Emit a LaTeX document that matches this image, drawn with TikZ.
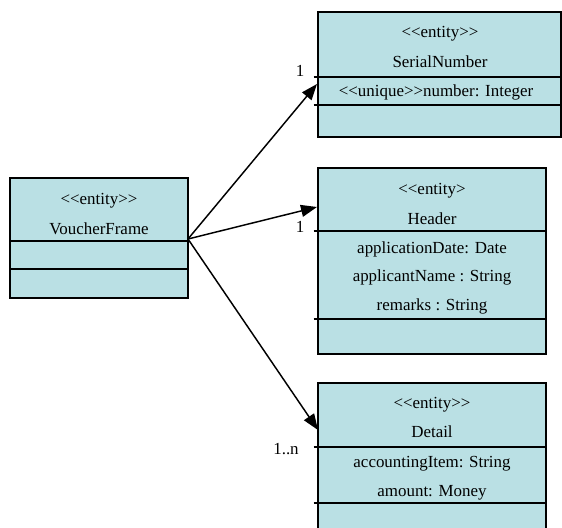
\documentclass[tikz,border=0pt]{standalone}
\usepackage{fontspec}
\setmainfont{Liberation Serif}[Ligatures=TeXOff]
\usetikzlibrary{arrows.meta}
\definecolor{entityfill}{RGB}{186,224,228}
\begin{document}
\begin{tikzpicture}[x=0.75pt,y=-0.75pt,
    entity/.style={draw,line width=1.5pt,fill=entityfill,inner sep=0pt},
    divider/.style={line width=1.1pt},
    member/.style={anchor=base,inner sep=0pt,font=\fontsize{12.7}{15}\selectfont},
    assoc/.style={line width=1.1pt,-{Triangle[length=12pt,width=9pt]}}]
      \useasboundingbox (0,0) rectangle (562,528);
      \node[entity,minimum width=133.5pt,minimum height=90pt] (voucher) at (99,238) {};
      \node[entity,minimum width=182.25pt,minimum height=93.75pt] (serial) at (439.5,74.5) {};
      \node[entity,minimum width=171pt,minimum height=139.5pt] (header) at (432,261) {};
      \node[entity,minimum width=171pt,minimum height=113.25pt] (detail) at (432,458.5) {};
      \draw[divider]
        (voucher.west |- 0,241) -- (voucher.east |- 0,241)
        (voucher.west |- 0,269) -- (voucher.east |- 0,269)
        ([xshift=-2.5pt]serial.west |- 0,77) -- (serial.east |- 0,77)
        ([xshift=-2.5pt]serial.west |- 0,105) -- (serial.east |- 0,105)
        ([xshift=-2.5pt]header.west |- 0,231) -- (header.east |- 0,231)
        ([xshift=-2.5pt]header.west |- 0,319) -- (header.east |- 0,319)
        ([xshift=-2.5pt]detail.west |- 0,447) -- (detail.east |- 0,447)
        ([xshift=-2.5pt]detail.west |- 0,503) -- (detail.east |- 0,503);
      \draw
        (99,205) node[member] (vst){<<entity>>}
        (99,235) node[member] (vname){VoucherFrame}
        (440,38) node[member] (sst){<<entity>>}
        (440,68) node[member] (sname){SerialNumber}
        (436,97) node[member] (snum){<<unique>>number: Integer}
        (432,195) node[member] (hst){<<entity>}
        (432,225) node[member] (hname){Header}
        (432,254) node[member] (hdate){applicationDate: Date}
        (432,282) node[member] (happl){applicantName : String}
        (432,311) node[member] (hrem){remarks : String}
        (432,409) node[member] (dst){<<entity>>}
        (432,438) node[member] (dname){Detail}
        (432,468) node[member] (ditem){accountingItem: String}
        (432,497) node[member] (damt){amount: Money}
        (300,77) node[member] (m1){1}
        (300,233) node[member] (m2){1}
        (286,455) node[member] (m3){1..n};
      \coordinate (vfout) at (188,239);
      \coordinate (snin) at (317,84);
      \coordinate (hdin) at (317,207);
      \coordinate (dtin) at (318,430);
      \begin{scope}[assoc]
        \draw (vfout) to (snin);
        \draw (vfout) to (hdin);
        \draw (vfout) to (dtin);
      \end{scope}
    \end{tikzpicture}
\end{document}
